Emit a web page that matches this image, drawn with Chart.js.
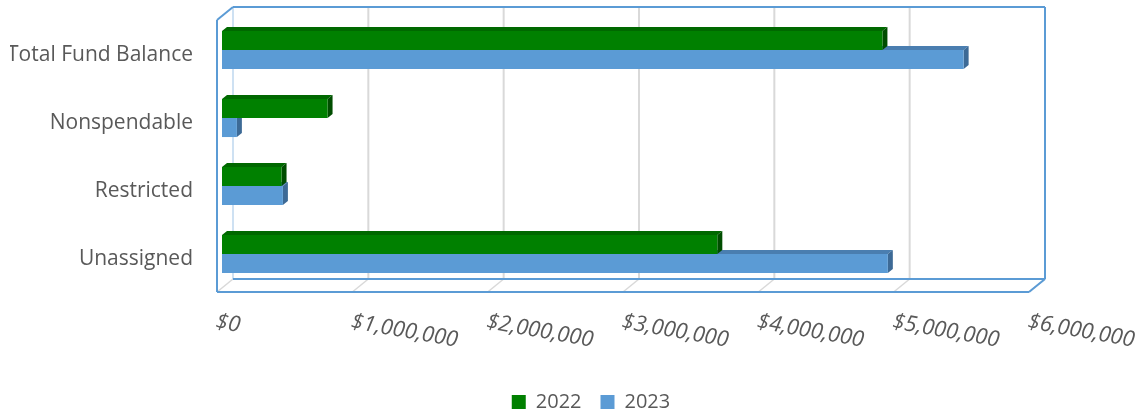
<!DOCTYPE html>
<html>
<head>
<meta charset="utf-8">
<script src="https://cdn.jsdelivr.net/npm/chart.js@4"></script>
<style>
  html, body { margin: 0; padding: 0; background: #fff; }
  #wrap { width: 1144px; height: 420px; position: relative; }
</style>
</head>
<body>
<div id="wrap"><canvas id="fundChart"></canvas></div>
<script>
const categories = ['Total Fund Balance', 'Nonspendable', 'Restricted', 'Unassigned'];
const seriesNames = ['2022', '2023'];
const values2022 = [4880000, 780000, 440000, 3660000];
const values2023 = [5480000, 110000, 450000, 4920000];
const tickValues = [0, 1000000, 2000000, 3000000, 4000000, 5000000, 6000000];

const FONT = "'Open Sans', sans-serif";
const TEXT = '#595959';
// oblique offsets, relative to the plane the bars' front faces sit in
const BAR_DEPTH = { dx: 5, dy: -4 };
const BACK = { dx: 11, dy: -9 };
const FRONT = { dx: -5, dy: 4 };

const money = v => '$' + Number(v).toLocaleString('en-US');

function line(ctx, x1, y1, x2, y2, color, w) {
  ctx.beginPath();
  ctx.moveTo(x1, y1);
  ctx.lineTo(x2, y2);
  ctx.strokeStyle = color;
  ctx.lineWidth = w;
  ctx.stroke();
}

function poly(ctx, pts, color) {
  ctx.beginPath();
  ctx.moveTo(pts[0][0], pts[0][1]);
  for (let i = 1; i < pts.length; i++) ctx.lineTo(pts[i][0], pts[i][1]);
  ctx.closePath();
  ctx.fillStyle = color;
  ctx.fill();
}

const box3d = {
  id: 'box3d',
  afterLayout(chart) {
    // legend sits off-centre in the original
    const lg = chart.legend;
    lg.left += 69; lg.right += 69;
    lg.top += 2; lg.bottom += 2;
  },
  beforeDatasetsDraw(chart) {
    const { ctx, chartArea: a } = chart;
    const xs = chart.scales.x;
    ctx.save();
    // back wall grid + floor diagonals
    tickValues.forEach(v => {
      const px = xs.getPixelForValue(v);
      if (v > 0 && v < 6000000) line(ctx, px + BACK.dx, a.top + BACK.dy, px + BACK.dx, a.bottom + BACK.dy, '#d9d9d9', 2);
      line(ctx, px + FRONT.dx, a.bottom + FRONT.dy, px + BACK.dx, a.bottom + BACK.dy, '#d9d9d9', 1.5);
    });
    const blue = '#5b9bd5';
    line(ctx, a.left + BACK.dx, a.top + BACK.dy, a.left + BACK.dx, a.bottom + BACK.dy, '#9dc3e6', 1);
    line(ctx, a.left + BACK.dx, a.top + BACK.dy, a.right + BACK.dx, a.top + BACK.dy, blue, 2);
    line(ctx, a.right + BACK.dx, a.top + BACK.dy, a.right + BACK.dx, a.bottom + BACK.dy, blue, 2);
    line(ctx, a.left + BACK.dx, a.bottom + BACK.dy, a.right + BACK.dx, a.bottom + BACK.dy, blue, 2);
    line(ctx, a.left + FRONT.dx, a.bottom + FRONT.dy, a.right + FRONT.dx, a.bottom + FRONT.dy, blue, 2);
    line(ctx, a.left + FRONT.dx, a.top + FRONT.dy, a.left + FRONT.dx, a.bottom + FRONT.dy, blue, 2);
    line(ctx, a.left + FRONT.dx, a.top + FRONT.dy, a.left + BACK.dx, a.top + BACK.dy, blue, 2);
    line(ctx, a.right + FRONT.dx, a.bottom + FRONT.dy, a.right + BACK.dx, a.bottom + BACK.dy, blue, 2);

    // top and side faces of the bars, back series first
    const faces = [
      { ds: 1, top: '#4a7eb0', side: '#3d6a96' },
      { ds: 0, top: '#006800', side: '#004d00' },
    ];
    faces.forEach(f => {
      chart.getDatasetMeta(f.ds).data.forEach(bar => {
        const { x, y, base, height } = bar.getProps(['x', 'y', 'base', 'height'], true);
        const yt = y - height / 2, yb = y + height / 2;
        const { dx, dy } = BAR_DEPTH;
        poly(ctx, [[base, yt], [x, yt], [x + dx, yt + dy], [base + dx, yt + dy]], f.top);
        poly(ctx, [[x, yt], [x, yb], [x + dx, yb + dy], [x + dx, yt + dy]], f.side);
      });
    });
    ctx.restore();
  },
  afterDraw(chart) {
    const { ctx, chartArea: a } = chart;
    const xs = chart.scales.x;
    ctx.save();
    ctx.font = "italic 22px " + FONT;
    ctx.fillStyle = TEXT;
    ctx.textAlign = 'left';
    ctx.textBaseline = 'top';
    tickValues.forEach(v => {
      const px = xs.getPixelForValue(v) + FRONT.dx;
      ctx.save();
      ctx.translate(px + 1, a.bottom + 23);
      ctx.rotate(10 * Math.PI / 180);
      ctx.fillText(money(v), 0, 0);
      ctx.restore();
    });
    ctx.restore();
  }
};

new Chart(document.getElementById('fundChart'), {
  type: 'bar',
  data: {
    labels: categories,
    datasets: [
      { label: seriesNames[0], data: values2022, backgroundColor: '#008000' },
      { label: seriesNames[1], data: values2023, backgroundColor: '#5b9bd5' },
    ],
  },
  plugins: [box3d],
  options: {
    indexAxis: 'y',
    responsive: true, maintainAspectRatio: false,
    animation: false,
    layout: { padding: { left: 10, right: 110, top: 16, bottom: 0 } },
    datasets: { bar: { categoryPercentage: 0.56, barPercentage: 1, borderWidth: 0 } },
    plugins: {
      tooltip: { enabled: false },
      legend: {
        position: 'bottom',
        labels: { boxWidth: 14, boxHeight: 14, padding: 19, color: TEXT, font: { family: FONT, size: 20 } },
      },
    },
    scales: {
      x: {
        min: 0, max: 6000000,
        ticks: { display: false, stepSize: 1000000 },
        grid: { display: false }, border: { display: false },
        afterFit: s => { s.height = 83; s.paddingLeft = 0; s.paddingRight = 0; },
      },
      y: {
        grid: { display: false }, border: { display: false },
        ticks: { color: TEXT, padding: 21, labelOffset: 5, font: { family: FONT, size: 21 } },
        afterFit: s => { s.width = 212; s.paddingTop = 0; s.paddingBottom = 0; },
      },
    },
  },
});
</script>
</body>
</html>
